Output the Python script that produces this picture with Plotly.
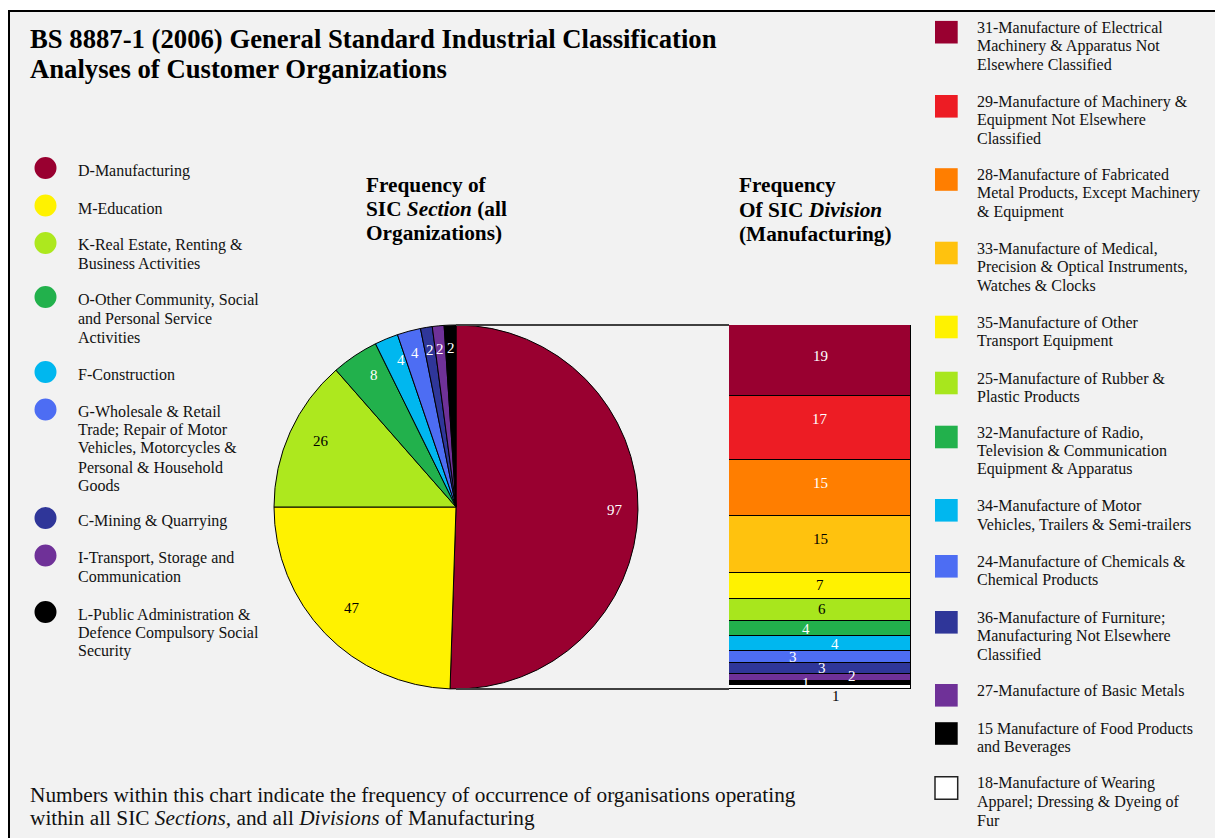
import math
import plotly.graph_objects as go

W, H = 1215, 838
FONT = "Liberation Serif"

# ---------------- data ----------------
section_labels = [
    "D-Manufacturing",
    "M-Education",
    "K-Real Estate, Renting & Business Activities",
    "O-Other Community, Social and Personal Service Activities",
    "F-Construction",
    "G-Wholesale & Retail Trade; Repair of Motor Vehicles, Motorcycles & Personal & Household Goods",
    "C-Mining & Quarrying",
    "I-Transport, Storage and Communication",
    "L-Public Administration & Defence Compulsory Social Security",
]
section_legend_lines = [
    ["D-Manufacturing"],
    ["M-Education"],
    ["K-Real Estate, Renting &", "Business Activities"],
    ["O-Other Community, Social", "and Personal Service", "Activities"],
    ["F-Construction"],
    ["G-Wholesale & Retail", "Trade; Repair of Motor", "Vehicles, Motorcycles &",
     "Personal & Household", "Goods"],
    ["C-Mining & Quarrying"],
    ["I-Transport, Storage and", "Communication"],
    ["L-Public Administration &", "Defence Compulsory Social", "Security"],
]
section_counts = [97, 47, 26, 8, 4, 4, 2, 2, 2]
section_colors = ["#990030", "#fff200", "#ade81e", "#22b14c", "#00b7ef",
                  "#4d6df3", "#2f3699", "#6f3198", "#000000"]
section_text_colors = ["white", "black", "black", "white", "white",
                       "white", "white", "white", "white"]

division_labels = [
    "31-Manufacture of Electrical Machinery & Apparatus Not Elsewhere Classified",
    "29-Manufacture of Machinery & Equipment Not Elsewhere Classified",
    "28-Manufacture of Fabricated Metal Products, Except Machinery & Equipment",
    "33-Manufacture of Medical, Precision & Optical Instruments, Watches & Clocks",
    "35-Manufacture of Other Transport Equipment",
    "25-Manufacture of Rubber & Plastic Products",
    "32-Manufacture of Radio, Television & Communication Equipment & Apparatus",
    "34-Manufacture of Motor Vehicles, Trailers & Semi-trailers",
    "24-Manufacture of Chemicals & Chemical Products",
    "36-Manufacture of Furniture; Manufacturing Not Elsewhere Classified",
    "27-Manufacture of Basic Metals",
    "15 Manufacture of Food Products and Beverages",
    "18-Manufacture of Wearing Apparel; Dressing & Dyeing of Fur",
]
division_legend_lines = [
    ["31-Manufacture of Electrical", "Machinery & Apparatus Not", "Elsewhere Classified"],
    ["29-Manufacture of Machinery &", "Equipment Not Elsewhere", "Classified"],
    ["28-Manufacture of Fabricated", "Metal Products, Except Machinery", "& Equipment"],
    ["33-Manufacture of Medical,", "Precision & Optical Instruments,", "Watches & Clocks"],
    ["35-Manufacture of Other", "Transport Equipment"],
    ["25-Manufacture of Rubber &", "Plastic Products"],
    ["32-Manufacture of Radio,", "Television & Communication", "Equipment & Apparatus"],
    ["34-Manufacture of Motor", "Vehicles, Trailers & Semi-trailers"],
    ["24-Manufacture of Chemicals &", "Chemical Products"],
    ["36-Manufacture of Furniture;", "Manufacturing Not Elsewhere", "Classified"],
    ["27-Manufacture of Basic Metals"],
    ["15 Manufacture of Food Products", "and Beverages"],
    ["18-Manufacture of Wearing", "Apparel; Dressing & Dyeing of", "Fur"],
]
division_counts = [19, 17, 15, 15, 7, 6, 4, 4, 3, 3, 2, 1, 1]
division_colors = ["#990030", "#ed1c24", "#ff7e00", "#ffc20e", "#fff200",
                   "#a8e61d", "#22b14c", "#00b7ef", "#4d6df3", "#2f3699",
                   "#6f3198", "#000000", "#ffffff"]
division_text_colors = ["white", "white", "white", "black", "black", "black",
                        "white", "white", "white", "white", "white", "white", "black"]

# ---------------- layout constants (pixels) ----------------
PIE_BOX = (274, 325, 638, 689)   # left, top, right, bottom
BAR_BOX = (729, 325, 911, 689)
LABEL_R = 0.875

# left legend: circle centre y, first text line centre y
sec_circle_y = [168, 205.5, 243, 297, 372, 409.5, 518, 555.5, 612]
sec_text_y = [171, 208, 245, 300, 374.5, 411, 521, 558, 614]
SEC_LINE = 18.7
# right legend: square centre y
div_square_y = [32.2, 106.3, 179.5, 253, 327, 383, 437, 510.3, 566.3, 622.3, 695.3, 733.5, 788]
DIV_LINE = 18.4
# bar label tweaks (x offset in axis units, y shift in px)
bar_label_dx = [0, 0, 0, 0, 0, 0.01, -0.077, 0.082, -0.148, 0.01, 0.176, -0.077, 0.088]
bar_label_dy = [5, 9, 5, 6, 1, 1, 0, 0, 0, 0, 2, 0, -9]
TEXT_COLOR = "#111111"


def px(x):
    return x / W


def py(y):
    return 1 - y / H


fig = go.Figure()

# ---------------- pie ----------------
fig.add_trace(go.Pie(
    labels=section_labels,
    values=section_counts,
    marker=dict(colors=section_colors, line=dict(color="black", width=1)),
    sort=False,
    direction="clockwise",
    rotation=0,
    textinfo="none",
    hoverinfo="label+value",
    showlegend=False,
    domain=dict(x=[px(PIE_BOX[0]), px(PIE_BOX[2])], y=[py(PIE_BOX[3]), py(PIE_BOX[1])]),
))

# ---------------- stacked bar ----------------
for name, v, c in zip(division_labels, division_counts, division_colors):
    fig.add_trace(go.Bar(
        x=[0], y=[v], name=name, width=1,
        marker=dict(color=c, line=dict(color="black", width=1)),
        showlegend=False, hovertemplate=name + ": %{y}<extra></extra>",
    ))

total_div = sum(division_counts)
annotations = []
shapes = []

# frame
shapes.append(dict(type="rect", xref="paper", yref="paper", x0=px(9), y0=py(11),
                   x1=1.05, y1=-0.05, fillcolor="#f2f2f2",
                   line=dict(color="black", width=2), layer="below"))

# pie labels computed from the values
cx = (PIE_BOX[0] + PIE_BOX[2]) / 2
cy = (PIE_BOX[1] + PIE_BOX[3]) / 2
R = (PIE_BOX[2] - PIE_BOX[0]) / 2
tot = sum(section_counts)
cum = 0
for v, tc in zip(section_counts, section_text_colors):
    a = (cum + v / 2) / tot * 2 * math.pi
    lx = cx + LABEL_R * R * math.sin(a)
    ly = cy - LABEL_R * R * math.cos(a)
    annotations.append(dict(x=px(lx), y=py(ly), xref="paper", yref="paper",
                            text=str(v), showarrow=False,
                            font=dict(family=FONT, size=15, color=tc)))
    cum += v

# bar labels
cum = 0
for v, tc, dx, dy in zip(division_counts, division_text_colors, bar_label_dx, bar_label_dy):
    annotations.append(dict(x=dx, y=cum + v / 2, xref="x", yref="y", text=str(v),
                            showarrow=False, yshift=dy,
                            font=dict(family=FONT, size=15, color=tc)))
    cum += v

# connecting lines pie -> bar
for yy in (PIE_BOX[1], PIE_BOX[3]):
    shapes.append(dict(type="line", xref="paper", yref="paper",
                       x0=px(cx), y0=py(yy), x1=px(BAR_BOX[0]), y1=py(yy),
                       line=dict(color="#404040", width=2)))

# left legend
for lines, c, cyy, ty in zip(section_legend_lines, section_colors, sec_circle_y, sec_text_y):
    shapes.append(dict(type="circle", xref="paper", yref="paper",
                       x0=px(45.5 - 11), x1=px(45.5 + 11), y0=py(cyy + 11), y1=py(cyy - 11),
                       fillcolor=c, line=dict(width=0)))
    for i, t in enumerate(lines):
        annotations.append(dict(x=px(76), y=py(ty + i * SEC_LINE), xref="paper", yref="paper",
                                text=t, showarrow=False, xanchor="left", yanchor="middle",
                                font=dict(family=FONT, size=16, color=TEXT_COLOR)))

# right legend
for lines, c, sy in zip(division_legend_lines, division_colors, div_square_y):
    shapes.append(dict(type="rect", xref="paper", yref="paper",
                       x0=px(935), x1=px(957.7), y0=py(sy + 11.3), y1=py(sy - 11.3),
                       fillcolor=c,
                       line=dict(width=1.5 if c == "#ffffff" else 0, color="#222222")))
    for i, t in enumerate(lines):
        annotations.append(dict(x=px(975), y=py(sy - 4.7 + i * DIV_LINE), xref="paper", yref="paper",
                                text=t, showarrow=False, xanchor="left", yanchor="middle",
                                font=dict(family=FONT, size=16, color=TEXT_COLOR)))

# titles
title_lines = ["BS 8887-1 (2006) General Standard Industrial Classification",
               "Analyses of Customer Organizations"]
for i, t in enumerate(title_lines):
    annotations.append(dict(x=px(28), y=py(39 + i * 30), xref="paper", yref="paper",
                            text="<b>" + t + "</b>", showarrow=False, xanchor="left", yanchor="middle",
                            font=dict(family=FONT, size=26.7, color="black")))

sub1 = ["Frequency of", "SIC <i>Section</i> (all", "Organizations)"]
for i, t in enumerate(sub1):
    annotations.append(dict(x=px(364), y=py(185 + i * 24), xref="paper", yref="paper",
                            text="<b>" + t + "</b>", showarrow=False, xanchor="left", yanchor="middle",
                            font=dict(family=FONT, size=21.3, color="black")))
sub2 = ["Frequency", "Of SIC <i>Division</i>", "(Manufacturing)"]
for i, t in enumerate(sub2):
    annotations.append(dict(x=px(737), y=py(185 + i * 24.5), xref="paper", yref="paper",
                            text="<b>" + t + "</b>", showarrow=False, xanchor="left", yanchor="middle",
                            font=dict(family=FONT, size=21.3, color="black")))

foot = ["Numbers within this chart indicate the frequency of occurrence of organisations operating",
        "within all SIC <i>Sections,</i> and all <i>Divisions</i> of Manufacturing"]
for i, t in enumerate(foot):
    annotations.append(dict(x=px(28), y=py(795 + i * 23), xref="paper", yref="paper",
                            text=t, showarrow=False, xanchor="left", yanchor="middle",
                            font=dict(family=FONT, size=21.3, color=TEXT_COLOR)))

fig.update_layout(
    width=W, height=H,
    margin=dict(l=0, r=0, t=0, b=0),
    paper_bgcolor="white",
    plot_bgcolor="rgba(0,0,0,0)",
    barmode="stack",
    bargap=0,
    showlegend=False,
    xaxis=dict(domain=[px(BAR_BOX[0]), px(BAR_BOX[2])], range=[-0.5, 0.5],
               visible=False, fixedrange=True),
    yaxis=dict(domain=[py(BAR_BOX[3]), py(BAR_BOX[1])], range=[total_div, 0],
               visible=False, fixedrange=True),
    shapes=shapes,
    annotations=annotations,
)

fig.write_html("out.html")
